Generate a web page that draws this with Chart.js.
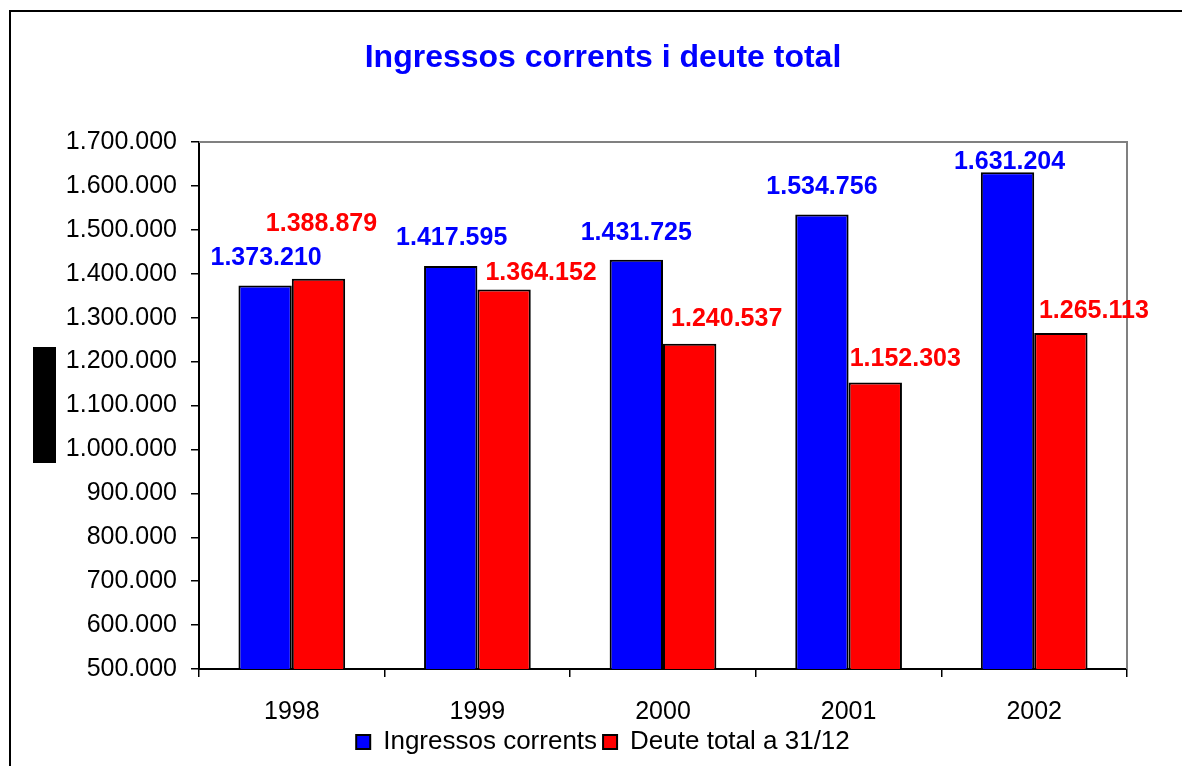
<!DOCTYPE html>
<html>
<head>
<meta charset="utf-8">
<script src="https://cdn.jsdelivr.net/npm/chart.js@4/dist/chart.umd.min.js"></script>
<style>
  html, body { margin: 0; padding: 0; background: #fff; }
  canvas { display: block; }
</style>
</head>
<body>
<canvas id="chart" width="1182" height="766"></canvas>
<script>
const years = ["1998", "1999", "2000", "2001", "2002"];
const ingressos = [1373210, 1417595, 1431725, 1534756, 1631204];
const deute = [1388879, 1364152, 1240537, 1152303, 1265113];

const FONT = "Arial, 'Liberation Sans', sans-serif";

// hand-placed value labels in the original: [dx, dy] from the top centre of each bar
const labelNudge = [
  [[1, -27], [1, -28], [0, -27], [0, -27], [2, -10]],
  [[3, -55], [37, -16], [37, -25], [30, -23], [33, -22]]
];

function fmt(v) {
  return String(Math.round(v)).replace(/\B(?=(\d{3})+(?!\d))/g, ".");
}

const framePlugin = {
  id: "frame",
  afterLayout(chart) {
    // let the long y labels spill left of the padded box without being clipped
    chart.scales.y.left = 0;
  },
  beforeDraw(chart) {
    const ctx = chart.ctx;
    ctx.save();
    ctx.fillStyle = "#fff";
    ctx.fillRect(0, 0, chart.width, chart.height);
    ctx.strokeStyle = "#000";
    ctx.lineWidth = 2;
    ctx.strokeRect(10, 11, chart.width + 20, chart.height + 20);
    // blacked-out axis title box
    ctx.fillStyle = "#000";
    ctx.fillRect(33, 347, 23, 116);
    ctx.restore();
  },
  beforeDatasetsDraw(chart) {
    const { ctx, chartArea: a } = chart;
    ctx.save();
    ctx.strokeStyle = "#808080";
    ctx.lineWidth = 2;
    ctx.beginPath();
    ctx.moveTo(a.left, a.top);
    ctx.lineTo(a.right, a.top);
    ctx.lineTo(a.right, a.bottom);
    ctx.stroke();
    ctx.restore();
  }
};

const valueLabels = {
  id: "valueLabels",
  afterDatasetsDraw(chart) {
    const ctx = chart.ctx;
    ctx.save();
    ctx.font = "bold 25px " + FONT;
    ctx.textAlign = "center";
    ctx.textBaseline = "middle";
    chart.data.datasets.forEach((ds, di) => {
      const meta = chart.getDatasetMeta(di);
      ctx.fillStyle = ds.backgroundColor;
      meta.data.forEach((bar, i) => {
        const n = labelNudge[di][i];
        ctx.fillText(fmt(ds.data[i]), bar.x + n[0], bar.y + n[1]);
      });
    });
    ctx.restore();
  }
};

new Chart(document.getElementById("chart"), {
  type: "bar",
  data: {
    labels: years,
    datasets: [
      {
        label: "Ingressos corrents",
        data: ingressos,
        backgroundColor: "#0000ff",
        borderColor: "#000",
        borderWidth: 2,
        borderSkipped: false
      },
      {
        label: "Deute total a 31/12",
        data: deute,
        backgroundColor: "#ff0000",
        borderColor: "#000",
        borderWidth: 2,
        borderSkipped: false
      }
    ]
  },
  options: {
    responsive: false,
    animation: false,
    layout: { padding: { left: 79, right: 55, top: 0, bottom: 1 } },
    datasets: { bar: { categoryPercentage: 0.575, barPercentage: 1 } },
    plugins: {
      title: {
        display: true,
        text: "Ingressos corrents i deute total",
        color: "#0000ff",
        font: { family: FONT, size: 32, weight: "bold", lineHeight: 1.2 },
        padding: { top: 39, bottom: 64.6 }
      },
      legend: {
        position: "bottom",
        labels: {
          color: "#000",
          font: { family: FONT, size: 26 },
          boxWidth: 14,
          boxHeight: 14,
          padding: 6
        }
      },
      tooltip: { enabled: false }
    },
    scales: {
      x: {
        offset: true,
        grid: {
          offset: true,
          drawOnChartArea: false,
          drawTicks: true,
          tickLength: 8,
          color: "#000",
          lineWidth: 1.5
        },
        border: { display: true, color: "#000", width: 2 },
        ticks: {
          color: "#000",
          font: { family: FONT, size: 25 },
          padding: 20,
          maxRotation: 0
        },
        afterFit(scale) { scale.height = 54; }
      },
      y: {
        min: 500000,
        max: 1700000,
        grid: {
          drawOnChartArea: false,
          drawTicks: true,
          tickLength: 8,
          color: "#000",
          lineWidth: 1.5
        },
        border: { display: true, color: "#000", width: 2 },
        ticks: {
          stepSize: 100000,
          color: "#000",
          font: { family: FONT, size: 25 },
          padding: 14,
          callback: (v) => fmt(v)
        },
        afterFit(scale) { scale.width = 120; }
      }
    }
  },
  plugins: [framePlugin, valueLabels]
});
</script>
</body>
</html>
